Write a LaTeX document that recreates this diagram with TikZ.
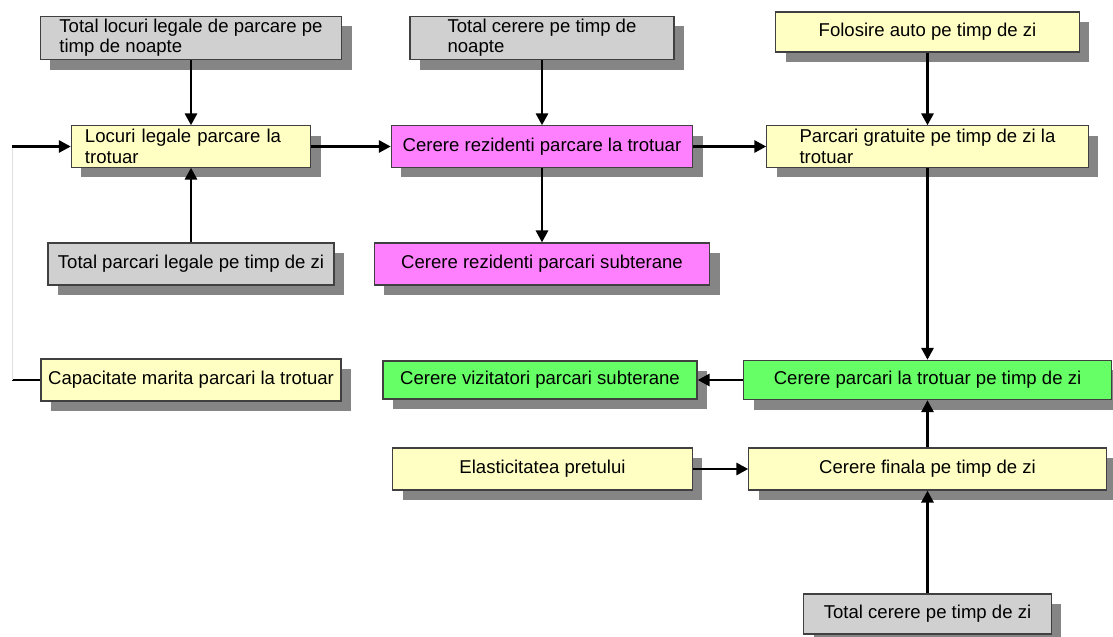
\documentclass[tikz,border=0pt]{standalone}
\usepackage{fontspec}
\setmainfont{Liberation Sans}
\usepackage{tikz}
\usetikzlibrary{arrows.meta,shadows}
\definecolor{Edge}{HTML}{404040}
\definecolor{Shade}{HTML}{858585}
\definecolor{Grey}{HTML}{D0D0D0}
\definecolor{Pale}{HTML}{FFFFC4}
\definecolor{Pink}{HTML}{FF80FF}
\definecolor{Lime}{HTML}{66FF66}

\begin{document}
\begin{tikzpicture}[x=0.025cm,y=-0.025cm,
      box/.style={rectangle,draw=Edge,line width=0.8pt,fill=Pale,minimum height=1.05cm,
        inner sep=2pt,align=left,font=\fontsize{13.2}{14.5}\selectfont,
        drop shadow={shadow xshift=0.25cm,shadow yshift=-0.25cm,fill=Shade,opacity=1}},
      given/.style={box,fill=Grey},
      resid/.style={box,fill=Pink},
      visit/.style={box,fill=Lime},
      link/.style={-{Triangle[length=3mm,width=3mm]},line width=2.1pt},
      plain/.style={line width=2.1pt}
    ]
      \useasboundingbox (0,0) rectangle (1113,637);
      % left column
      \node[given,minimum width=7.53cm] (T1) at (191,38) {Total locuri legale de parcare pe\\timp de noapte};
      \node[box,minimum width=5.98cm,minimum height=1.03cm,text width=5.3cm] (L1) at (191,146.5)
        {Locuri legale parcare la\\trotuar};
      \node[given,minimum width=7.15cm] (T2) at (191,264) {Total parcari legale pe timp de zi};
      \node[box,minimum width=7.5cm] (C1) at (191,380) {Capacitate marita parcari la trotuar};
      % middle column
      \node[given,minimum width=6.6cm] (T3) at (542,38) {Total cerere pe timp de\\noapte};
      \node[resid,minimum width=7.53cm,minimum height=1.03cm] (R1) at (542,146.5)
        {Cerere rezidenti parcare la trotuar};
      \node[resid,minimum width=8.38cm] (R2) at (542,264) {Cerere rezidenti parcari subterane};
      \node[visit,minimum width=7.85cm,minimum height=0.95cm] (V1) at (540,380)
        {Cerere vizitatori parcari subterane};
      \node[box,minimum width=7.48cm] (E1) at (542.5,469) {Elasticitatea pretului};
      % right column
      \node[box,minimum width=7.58cm,minimum height=1.0cm] (F1) at (927.5,32) {Folosire auto pe timp de zi};
      \node[box,minimum width=8.03cm,minimum height=1.03cm] (P1) at (927.5,146.5)
        {Parcari gratuite pe timp de zi la\\trotuar};
      \node[visit,minimum width=9.18cm,minimum height=0.98cm] (C2) at (927.5,380)
        {Cerere parcari la trotuar pe timp de zi};
      \node[box,minimum width=8.93cm] (F2) at (927.5,469) {Cerere finala pe timp de zi};
      \node[given,minimum width=6.18cm,minimum height=1.0cm] (T4) at (927.5,614) {Total cerere pe timp de zi};
      % loop back on the left
      \coordinate (loopTop) at (12,146.5);
      \coordinate (loopBot) at (12,380);
      \draw[plain] (C1) -- (loopBot);
      \draw[black!12,line width=0.6pt] (loopBot) -- (loopTop);
      \draw[link] (loopTop) -- (L1);
      % flows
      \draw[link] (T1) -- (L1);
      \draw[link] (T2) -- (L1);
      \draw[link] (L1) -- (R1);
      \draw[link] (T3) -- (R1);
      \draw[link] (R1) -- (R2);
      \draw[link] (R1) -- (P1);
      \draw[link] (F1) -- (P1);
      \draw[link] (P1) -- (C2);
      \draw[link] (C2) -- (V1);
      \draw[link] (E1) -- (F2);
      \draw[link] (F2) -- (C2);
      \draw[link] (T4) -- (F2);
    \end{tikzpicture}
\end{document}
